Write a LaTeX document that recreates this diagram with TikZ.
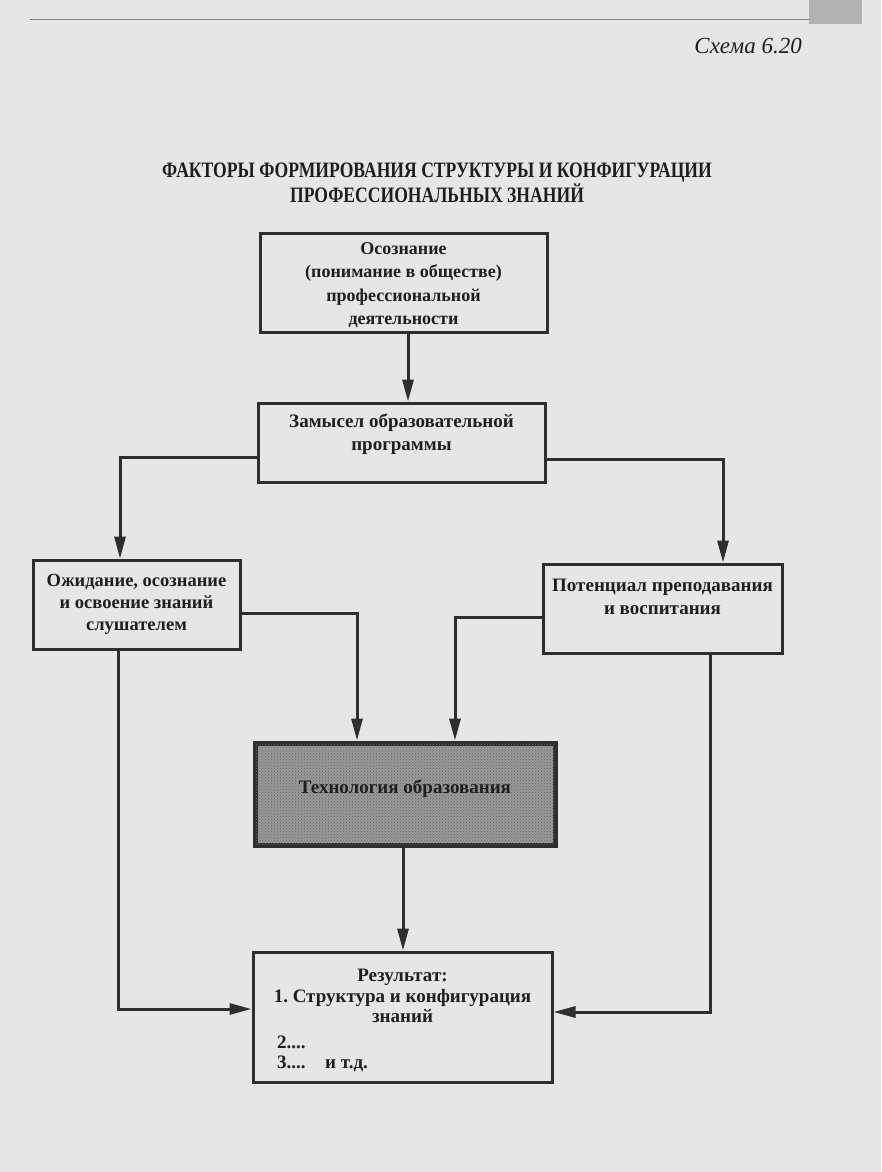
\documentclass[tikz,border=0pt]{standalone}
\usepackage{fontspec}
\setmainfont{Liberation Serif}
\newfontfamily\headfont[FakeStretch=0.8]{Liberation Serif}
\usetikzlibrary{arrows.meta,patterns}
\definecolor{paper}{HTML}{E6E6E6}
\definecolor{linec}{HTML}{2E2E2E}
\definecolor{textc}{HTML}{1E1E1E}
\frenchspacing
\begin{document}
\begin{tikzpicture}[x=1pt,y=-1pt,
  box/.style={draw=linec, line width=3pt, inner sep=0pt},
  lbl/.style={font=\bfseries\fontsize{19}{23.5}\selectfont, align=center, text=textc, inner sep=0pt},
  conn/.style={draw=linec, line width=3pt, -{Triangle[length=22pt,width=11pt]}}]
\useasboundingbox (0,0) rectangle (881,1172);
\fill[paper] (0,0) rectangle (881,1172);
\fill[black!30] (809,0) rectangle (862,24);
\draw[linec!60, line width=1pt] (30,20) -- (809,20);

% caption and heading
\node[anchor=base east, font=\itshape\fontsize{23}{27}\selectfont, text=textc, inner sep=0pt] (cap) at (802,54) {Схема 6.20};
\node[font=\headfont\bfseries\fontsize{22}{23}\selectfont, align=center, text=textc, inner sep=0pt] (head) at (437,183)
  {ФАКТОРЫ ФОРМИРОВАНИЯ СТРУКТУРЫ И КОНФИГУРАЦИИ\\ПРОФЕССИОНАЛЬНЫХ ЗНАНИЙ};

% boxes
\node[box, minimum width=287pt, minimum height=99pt] (b1) at (403.5,282.5) {};
\node[lbl, font=\bfseries\fontsize{18}{23.5}\selectfont] (t1) at (403.5,285) {Осознание\\(понимание в обществе)\\профессиональной\\деятельности};

\node[box, minimum width=287pt, minimum height=79pt] (b2) at (401.5,442.5) {};
\node[lbl] (t2) at (401.5,434) {Замысел образовательной\\программы};

\node[box, minimum width=207pt, minimum height=89pt] (b3) at (136.5,604.5) {};
\node[lbl, font=\bfseries\fontsize{18.5}{22}\selectfont] (t3) at (136.5,604) {Ожидание, осознание\\и освоение знаний\\слушателем};

\node[box, minimum width=239pt, minimum height=89pt] (b4) at (662.5,608.5) {};
\node[lbl] (t4) at (662.5,597) {Потенциал преподавания\\и воспитания};

\node[box, line width=5pt, minimum width=300pt, minimum height=102pt, fill=black!40,
      postaction={pattern=crosshatch dots, pattern color=black!60}] (b5) at (405,794) {};
\node[lbl] (t5) at (405,789) {Технология образования};

\node[box, minimum width=299pt, minimum height=130pt] (b6) at (402.5,1017) {};
\node[lbl, font=\bfseries\fontsize{19}{20.5}\selectfont] (t6) at (402.5,996) {Результат:\\1. Структура и конфигурация\\знаний};
\node[lbl, anchor=base west] (t7) at (277,1048) {2....};
\node[lbl, anchor=base west] (t8) at (277,1068) {3....};
\node[lbl, anchor=base west] (t9) at (325,1068) {и т.д.};

% bend points
\coordinate (k1) at (120,457);
\coordinate (k2) at (723,459);
\coordinate (k3) at (357,613);
\coordinate (k4) at (455,617);
\coordinate (k5) at (118,1009);
\coordinate (k6) at (710,1012);
\coordinate (a1) at (408,0);
\coordinate (a2) at (403,0);

% connectors
\draw[conn] (b1.south -| a1) -- (b2.north -| a1);
\draw[conn] (b2.west |- k1) -- (k1) -- (k1 |- b3.north);
\draw[conn] (b2.east |- k2) -- (k2) -- (k2 |- b4.north);
\draw[conn] (b3.east |- k3) -- (k3) -- (k3 |- b5.north);
\draw[conn] (b4.west |- k4) -- (k4) -- (k4 |- b5.north);
\draw[conn] (b5.south -| a2) -- (b6.north -| a2);
\draw[conn] (b3.south -| k5) -- (k5) -- (b6.west |- k5);
\draw[conn] (b4.south -| k6) -- (k6) -- (b6.east |- k6);
\end{tikzpicture}
\end{document}
